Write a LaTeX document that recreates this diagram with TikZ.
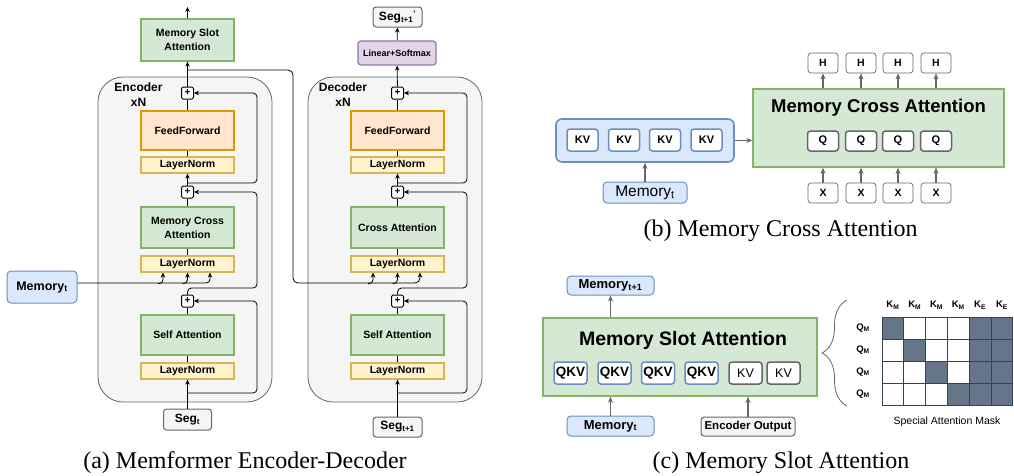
\documentclass[tikz,border=0pt]{standalone}
\usepackage{fontspec}
\setmainfont{Liberation Sans}
\newfontfamily\capfont{Liberation Serif}
\usetikzlibrary{arrows.meta,decorations.pathreplacing}

\definecolor{grnfill}{HTML}{D5E8D4}
\definecolor{grnline}{HTML}{82B366}
\definecolor{orgfill}{HTML}{FFE6CC}
\definecolor{orgline}{HTML}{D79B00}
\definecolor{ylwfill}{HTML}{FFF2CC}
\definecolor{ylwline}{HTML}{D6B656}
\definecolor{blufill}{HTML}{DAE8FC}
\definecolor{bluline}{HTML}{6C8EBF}
\definecolor{gryfill}{HTML}{F5F5F5}
\definecolor{gryline}{HTML}{666666}
\definecolor{prpfill}{HTML}{E1D5E7}
\definecolor{prpline}{HTML}{9673A6}
\definecolor{maskfill}{HTML}{647687}
\definecolor{maskline}{HTML}{314354}

\tikzset{
  block/.style={draw, inner sep=0pt, align=center, line width=1.2pt,
    minimum width=93pt, font={\fontsize{10.5}{14}\selectfont\bfseries}},
  attn/.style={block, fill=grnfill, draw=grnline},
  ffbox/.style={block, fill=orgfill, draw=orgline, minimum height=39pt},
  normbox/.style={block, fill=ylwfill, draw=ylwline, minimum height=16pt},
  plusbox/.style={draw, fill=white, inner sep=0pt, minimum size=12pt,
    rounded corners=1.5pt, line width=1pt, font={\fontsize{10}{10}\selectfont\bfseries}},
  membox/.style={draw=bluline, fill=blufill, inner sep=0pt, rounded corners=4pt,
    line width=1pt, font={\fontsize{13}{13}\selectfont\bfseries}},
  segbox/.style={draw=gryline, fill=gryfill, inner sep=0pt, rounded corners=3pt,
    line width=1pt, font={\fontsize{12}{12}\selectfont\bfseries}},
  layer/.style={draw=gryline, fill=gryfill, rounded corners=25pt, line width=0.8pt},
  stacklabel/.style={align=center, font={\fontsize{12}{15}\selectfont\bfseries}},
  arr/.style={-{Stealth[length=5pt,width=4.5pt]}, line width=0.8pt},
  garr/.style={-{Stealth[length=6pt,width=5pt]}, line width=1.1pt, draw=gryline},
  bigattn/.style={draw=grnline, fill=grnfill, line width=1.6pt},
  bigtitle/.style={font={\fontsize{18.5}{18.5}\selectfont\bfseries}},
  slot/.style={fill=white, inner sep=0pt, rounded corners=3pt, line width=1.5pt,
    minimum width=31pt, minimum height=22pt, font={\fontsize{11}{11}\selectfont\bfseries}},
  blueslot/.style={slot, draw=bluline},
  grayslot/.style={slot, draw=gryline},
  tokbox/.style={draw=gryline, fill=white, inner sep=0pt, rounded corners=3pt, line width=0.7pt,
    minimum width=30pt, minimum height=20pt, font={\fontsize{10.5}{10.5}\selectfont\bfseries}},
  masklabel/.style={inner sep=0pt, font={\fontsize{9.5}{9.5}\selectfont\bfseries}},
  caption/.style={font={\capfont\fontsize{24}{24}\selectfont}}
}

\begin{document}
\begin{tikzpicture}[x=1pt,y=-1pt]
  \useasboundingbox (0,0) rectangle (1014,475);

  % draw the two stacks of part (a)
  \node[layer, minimum width=174pt, minimum height=325pt] (enc) at (185,239.5) {};
  \node[layer, minimum width=174pt, minimum height=325pt] (dec) at (395,239.5) {};
  \node[stacklabel] (enclabel) at (138.5,94.5) {Encoder\\xN};
  \node[stacklabel] (declabel) at (343,94.5) {Decoder\\xN};

  % draw the blocks both stacks share
  \foreach \s/\cx/\rx in {e/187.5/257,d/397.5/467} {
    \node[plusbox] (\s add3) at (\cx,93) {+};
    \node[ffbox] (\s ff) at (\cx,130.5) {FeedForward};
    \node[normbox] (\s ln3) at (\cx,165) {LayerNorm};
    \node[plusbox] (\s add2) at (\cx,192) {+};
    \node[normbox] (\s ln2) at (\cx,264) {LayerNorm};
    \node[plusbox] (\s add1) at (\cx,301) {+};
    \node[attn, minimum height=40pt] (\s self) at (\cx,335) {Self Attention};
    \node[normbox] (\s ln1) at (\cx,371) {LayerNorm};
    \coordinate (\s tap1) at (\cx,393);
    \coordinate (\s tap3) at (\cx,183);
    % residual paths
    \draw[arr, rounded corners=4pt] (\s tap1) -| (\rx,301) -- (\s add1.east);
    \draw[arr, rounded corners=4pt] (\s add1.north) |- (\rx,288) -- (\rx,192) -- (\s add2.east);
    \draw[arr, rounded corners=4pt] (\s tap3) -| (\rx,93) -- (\s add3.east);
    % main stream
    \draw (\s ln1) -- (\s self);
    \draw (\s self) -- (\s add1);
    \draw[arr] (\s add2) -- (\s ln3);
    \draw (\s ln3) -- (\s ff);
    \draw (\s ff) -- (\s add3);
    % short hooks into the second LayerNorm
    \foreach \dx in {-24.5,0}
      \draw[arr, rounded corners=4pt] ([xshift=\dx pt-5pt, yshift=-11pt]\s ln2.south) -| ([xshift=\dx pt]\s ln2.south);
  }

  % encoder only
  \node[attn, minimum height=41pt] (ecross) at (187.5,227.5) {Memory Cross\\Attention};
  \node[attn, minimum height=42pt] (eslot) at (187.5,40) {Memory Slot\\Attention};
  \node[segbox, minimum width=48pt, minimum height=21pt] (eseg) at (187.5,419.5) {Seg\textsubscript{t}};
  \node[membox, minimum width=70pt, minimum height=32pt, font={\fontsize{12.5}{12.5}\selectfont\bfseries}] (emem) at (42,287) {Memory\textsubscript{t}};
  \coordinate (etop) at (187.5,7);
  \coordinate (etap4) at (187.5,70);
  \draw (eln2) -- (ecross);
  \draw (ecross) -- (eadd2);
  \draw[arr] (eadd3) -- (eslot);
  \draw[arr] (eslot) -- (etop);
  \draw[arr] (eseg) -- (eln1);
  \draw[arr, rounded corners=4pt] ([yshift=4pt]emem.east) -| ([xshift=22.5pt]eln2.south);

  % decoder only
  \node[attn, minimum height=41pt] (dcross) at (397.5,227.5) {Cross Attention};
  \node[block, fill=prpfill, draw=prpline, rounded corners=3pt, minimum width=78pt, minimum height=24pt,
    font={\fontsize{9}{9}\selectfont\bfseries}] (dlin) at (397,53) {Linear+Softmax};
  \node[segbox, minimum width=49pt, minimum height=20pt] (dout) at (397.5,17) {Seg\textsubscript{t+1}\textsuperscript{'}};
  \node[segbox, minimum width=49pt, minimum height=20pt] (dseg) at (397.5,427) {Seg\textsubscript{t+1}};
  \draw (dln2) -- (dcross);
  \draw (dcross) -- (dadd2);
  \draw[arr] (dadd3) -- (dlin);
  \draw[arr] (dlin) -- (dout);
  \draw[arr] (dseg) -- (dln1);
  \draw[arr, rounded corners=5pt] (etap4) -| (293,283) -| ([xshift=22.5pt]dln2.south);

  % part (b)
  \node[membox, line width=1.6pt, rounded corners=6pt, minimum width=178pt, minimum height=43pt] (kvgroup) at (645,140.5) {};
  \foreach \i/\kx in {1/582.5,2/624,3/665,4/706.5}
    \node[blueslot] (kv\i) at (\kx,140) {KV};
  \node[membox, minimum width=84pt, minimum height=21pt, font={\fontsize{15.5}{15.5}\selectfont}] (bmem) at (645,192.5) {Memory\textsubscript{t}};
  \node[bigattn, minimum width=251pt, minimum height=78pt] (bcross) at (878.5,128) {};
  \node[bigtitle] (bcrosstitle) at (878.5,108) {Memory Cross Attention};
  \foreach \i/\qx in {1/823,2/861,3/898,4/936} {
    \node[grayslot, minimum height=20pt] (q\i) at (\qx,141) {Q};
    \node[tokbox] (h\i) at (\qx,63) {H};
    \node[tokbox] (x\i) at (\qx,193) {X};
    \draw[garr] (bcross.north -| h\i) -- (h\i);
    \draw[garr] (x\i) -- (bcross.south -| x\i);
  }
  \draw[garr] (bmem) -- (kvgroup);
  \draw[garr] (kvgroup.east) -- (bcross.west |- kvgroup.east);

  % part (c)
  \node[membox, minimum width=87pt, minimum height=19pt] (cnext) at (610.5,285.5) {Memory\textsubscript{t+1}};
  \node[bigattn, minimum width=274pt, minimum height=78pt] (cslot) at (680,357) {};
  \node[bigtitle, font={\fontsize{19.5}{19.5}\selectfont\bfseries}] (cslottitle) at (683,340) {Memory Slot Attention};
  \foreach \i/\sx in {1/570.5,2/614.5,3/658,4/701.5}
    \node[blueslot, minimum width=33pt, font={\fontsize{13.5}{13.5}\selectfont\bfseries}] (qkv\i) at (\sx,373) {QKV};
  \foreach \i/\sx in {1/745.5,2/783.5}
    \node[grayslot, minimum width=33pt, text=black, font={\fontsize{12.5}{12.5}\selectfont}] (ckv\i) at (\sx,373) {KV};
  \node[membox, minimum width=87pt, minimum height=20pt] (cmem) at (610.5,426) {Memory\textsubscript{t}};
  \node[segbox, minimum width=94pt, minimum height=19pt, font={\fontsize{11.5}{11.5}\selectfont\bfseries}] (encout) at (748,426.5) {Encoder Output};
  \draw[garr] (cmem) -- (cslot.south -| cmem);
  \draw[garr] (encout) -- (cslot.south -| encout);
  \draw[garr] (cslot.north -| cnext) -- (cnext);

  % draw the brace and the attention mask
  \draw[gryline, line width=0.8pt, decorate, decoration={brace, amplitude=25pt}] (847,406) -- (847,300);
  \foreach \r/\c in {1/1,1/5,1/6,2/2,2/5,2/6,3/3,3/5,3/6,4/4,4/5,4/6}
    \fill[maskfill] ({882+21.8*(\c-1)},{317+22*(\r-1)}) rectangle ++(21.8,22);
  \foreach \i in {0,...,6}
    \draw[maskline, line width=0.8pt] ({882+21.8*\i},317) -- ++(0,88);
  \foreach \j in {0,...,4}
    \draw[maskline, line width=0.8pt] (882,{317+22*\j}) -- ++(130.8,0);
  \foreach \c/\l in {1/M,2/M,3/M,4/M,5/E,6/E}
    \node[masklabel] (k\c) at ({882+21.8*(\c-0.5)},305) {K\textsubscript{\l}};
  \foreach \r in {1,...,4}
    \node[masklabel] (qm\r) at (863,{317+22*(\r-0.5)}) {Q\textsubscript{M}};
  \node[font={\fontsize{10.5}{10.5}\selectfont}] (masktitle) at (947,422) {Special Attention Mask};

  % captions
  \node[caption] (capa) at (245,463) {(a) Memformer Encoder-Decoder};
  \node[caption] (capb) at (780.5,231) {(b) Memory Cross Attention};
  \node[caption] (capc) at (781,463) {(c) Memory Slot Attention};
\end{tikzpicture}
\end{document}
